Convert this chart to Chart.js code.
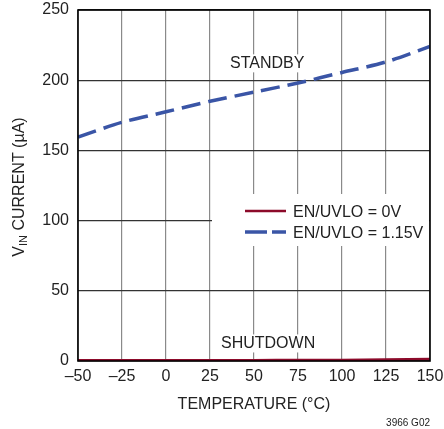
<!DOCTYPE html>
<html><head><meta charset="utf-8">
<script src="https://cdn.jsdelivr.net/npm/chart.js@4"></script>
<style>html,body{margin:0;padding:0;background:#fff}#wrap{width:444px;height:429px}</style>
</head><body><div id="wrap"><canvas id="c" width="444" height="429"></canvas></div>
<script>
const temperatures = [-50, -25, 0, 25, 50, 75, 100, 125, 150];
const shutdownCurrent = [0.5, 0.5, 0.5, 0.6, 0.6, 0.7, 0.8, 1.0, 1.5];
const standbyCurrent = [159.5, 170, 177.5, 185, 191.5, 198, 205.5, 213, 224];
const seriesLabels = ['EN/UVLO = 0V', 'EN/UVLO = 1.15V'];
const xTicks = [-50, -25, 0, 25, 50, 75, 100, 125, 150];
const yTicks = [0, 50, 100, 150, 200, 250];

const FONT = '"Liberation Sans Narrow", "Liberation Sans", Arial, sans-serif';
const RED = '#8c0a2a', BLUE = '#3a55a6';

const decor = {
  id: 'decor',
  afterDraw(chart) {
    const ctx = chart.ctx, a = chart.chartArea, xs = chart.scales.x, ys = chart.scales.y;
    ctx.save();
    ctx.font = '16px ' + FONT;
    ctx.textAlign = 'center'; ctx.textBaseline = 'middle';
    const notes = [['STANDBY', 57.5, 212], ['SHUTDOWN', 58, 12.5]];
    notes.forEach(([t, xv, yv]) => {
      const px = xs.getPixelForValue(xv), py = ys.getPixelForValue(yv);
      const w = ctx.measureText(t).width;
      ctx.fillStyle = '#fff'; ctx.fillRect(px - w / 2 - 3, py - 9, w + 6, 18);
      ctx.fillStyle = '#222'; ctx.fillText(t, px, py);
    });
    ctx.fillStyle = '#fff';
    ctx.fillRect(212, 194, a.right - 213, 52);
    const ds = chart.data.datasets;
    const rows = [211, 232];
    ds.forEach((d, i) => {
      ctx.strokeStyle = d.borderColor; ctx.lineWidth = d.borderWidth;
      ctx.setLineDash(i === 1 ? [22, 5] : []);
      ctx.beginPath(); ctx.moveTo(245, rows[i]); ctx.lineTo(286, rows[i]); ctx.stroke();
      ctx.setLineDash([]);
      ctx.fillStyle = '#222'; ctx.textAlign = 'left'; ctx.textBaseline = 'middle';
      ctx.font = '16px ' + FONT;
      ctx.fillText(d.label, 293, rows[i] + 1.5);
    });
    ctx.strokeStyle = '#000'; ctx.lineWidth = 1.6;
    ctx.strokeRect(a.left, a.top, a.right - a.left, a.bottom - a.top);
    ctx.fillStyle = '#222'; ctx.textAlign = 'center'; ctx.textBaseline = 'middle';
    ctx.font = '16px ' + FONT;
    ctx.fillText('TEMPERATURE (°C)', (a.left + a.right) / 2, 405);
    ctx.font = '10px ' + FONT; ctx.textAlign = 'right';
    ctx.fillText('3966 G02', 430, 423);
    ctx.translate(20, 187); ctx.rotate(-Math.PI / 2);
    const p1 = 'V', p3 = ' CURRENT (µA)';
    ctx.font = '16px ' + FONT; const w1 = ctx.measureText(p1).width;
    ctx.font = '11px ' + FONT; const w2 = ctx.measureText('IN').width;
    ctx.font = '16px ' + FONT; const w3 = ctx.measureText(p3).width;
    let x0 = -(w1 + w2 + w3) / 2;
    ctx.textAlign = 'left'; ctx.textBaseline = 'middle';
    ctx.fillText(p1, x0, 0); x0 += w1;
    ctx.font = '11px ' + FONT; ctx.fillText('IN', x0, 4); x0 += w2;
    ctx.font = '16px ' + FONT; ctx.fillText(p3, x0, 0);
    ctx.restore();
  }
};

new Chart(document.getElementById('c'), {
  type: 'line',
  data: {
    datasets: [
      { label: seriesLabels[0], data: temperatures.map((t, i) => ({ x: t, y: shutdownCurrent[i] })),
        borderColor: RED, borderWidth: 2.5, pointRadius: 0, tension: 0.3, fill: false },
      { label: seriesLabels[1], data: temperatures.map((t, i) => ({ x: t, y: standbyCurrent[i] })),
        borderColor: BLUE, borderWidth: 3.5, borderDash: [19, 8], pointRadius: 0, tension: 0.3, fill: false }
    ]
  },
  options: {
    responsive: false, animation: false,
    layout: { padding: { left: 0, right: 14, top: 10, bottom: 0 } },
    plugins: { legend: { display: false }, tooltip: { enabled: false } },
    scales: {
      x: {
        type: 'linear', min: -50, max: 150,
        afterBuildTicks: s => { s.ticks = xTicks.map(v => ({ value: v })); },
        afterFit: s => { s.height = 68; s.paddingLeft = 0; s.paddingRight = 0; },
        grid: { color: '#8a8a8a', lineWidth: 1.2, drawTicks: false },
        border: { display: false },
        ticks: { padding: 6, color: '#222', font: { family: FONT, size: 16 },
          maxRotation: 0, autoSkip: false,
          callback: v => String(v).replace('-', '\u2013') }
      },
      y: {
        min: 0, max: 250,
        afterBuildTicks: s => { s.ticks = yTicks.map(v => ({ value: v })); },
        afterFit: s => { s.width = 78; s.paddingTop = 0; s.paddingBottom = 0; },
        grid: { color: '#333', lineWidth: 1.2, drawTicks: false },
        border: { display: false },
        ticks: { padding: 9, color: '#222', font: { family: FONT, size: 16 } }
      }
    }
  },
  plugins: [decor]
});
</script></body></html>
